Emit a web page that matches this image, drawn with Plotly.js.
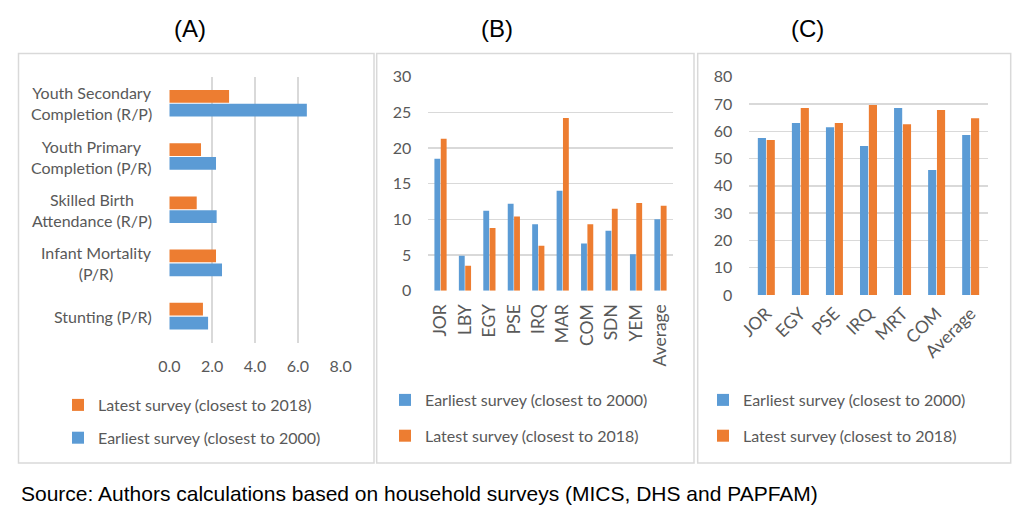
<!DOCTYPE html>
<html>
<head>
<meta charset="utf-8">
<script src="https://cdn.plot.ly/plotly-3.0.1.min.js"></script>
<style>html,body{margin:0;padding:0;background:#fff;}#chart{width:1029px;height:522px;}</style>
</head>
<body>
<div id="chart"></div>
<script>
// ---------- Data ----------
// Panel A (top to bottom as read)
const indicatorsA = ["Youth Secondary<br>Completion (R/P)", "Youth Primary<br>Completion (P/R)", "Skilled Birth<br>Attendance (R/P)", "Infant Mortality<br>(P/R)", "Stunting (P/R)"];
const earliestA = [6.42, 2.18, 2.21, 2.46, 1.81];
const latestA   = [2.79, 1.48, 1.28, 2.18, 1.57];
const ticksA = [0, 2, 4, 6, 8];

// Panel B
const countriesB = ["JOR", "LBY", "EGY", "PSE", "IRQ", "MAR", "COM", "SDN", "YEM", "Average"];
const earliestB = [18.5, 4.9, 11.2, 12.2, 9.3, 14.0, 6.6, 8.4, 5.1, 10.0];
const latestB   = [21.3, 3.5, 8.8, 10.4, 6.3, 24.2, 9.3, 11.5, 12.3, 11.9];

// Panel C
const countriesC = ["JOR", "EGY", "PSE", "IRQ", "MRT", "COM", "Average"];
const earliestC = [57.5, 63.0, 61.5, 54.6, 68.5, 45.8, 58.6];
const latestC   = [56.8, 68.5, 63.0, 69.6, 62.6, 67.8, 64.8];

const nameEarliest = "Earliest survey (closest to 2000)";
const nameLatest = "Latest survey (closest to 2018)";
const panelTitles = ["(A)", "(B)", "(C)"];
const sourceText = "Source: Authors calculations based on household surveys (MICS, DHS and PAPFAM)";

// ---------- Style ----------
const W = 1029, H = 522;
const BLUE = "#5b9bd5", ORANGE = "#ed7d31", GRID = "#d9d9d9", TXT = "#595959";
const FONT = "Lato, 'Open Sans', sans-serif";
const px = v => v / W;
const py = v => 1 - v / H;

const orderA = indicatorsA.slice().reverse(); // bottom to top

const traces = [
  {type: "bar", orientation: "h", name: nameEarliest, y: indicatorsA, x: earliestA,
   marker: {color: BLUE}, xaxis: "x", yaxis: "y", legend: "legend", legendgroup: "a1", legendrank: 2},
  {type: "bar", orientation: "h", name: nameLatest, y: indicatorsA, x: latestA,
   marker: {color: ORANGE}, xaxis: "x", yaxis: "y", legend: "legend", legendgroup: "a2", legendrank: 1},
  {type: "bar", name: nameEarliest, x: countriesB, y: earliestB,
   marker: {color: BLUE}, xaxis: "x2", yaxis: "y2", legend: "legend2", legendgroup: "b1", legendrank: 1},
  {type: "bar", name: nameLatest, x: countriesB, y: latestB,
   marker: {color: ORANGE}, xaxis: "x2", yaxis: "y2", legend: "legend2", legendgroup: "b2", legendrank: 2},
  {type: "bar", name: nameEarliest, x: countriesC, y: earliestC,
   marker: {color: BLUE}, xaxis: "x3", yaxis: "y3", legend: "legend3", legendgroup: "c1", legendrank: 1},
  {type: "bar", name: nameLatest, x: countriesC, y: latestC,
   marker: {color: ORANGE}, xaxis: "x3", yaxis: "y3", legend: "legend3", legendgroup: "c2", legendrank: 2}
];

const tickFont = {family: FONT, size: 16, color: TXT};
const catFont = {family: FONT, size: 17.5, color: TXT};
const legFont = {family: FONT, size: 16, color: TXT};

const annotations = [];
// panel titles
[[190, 28], [497, 28], [807, 28]].forEach((p, i) => {
  annotations.push({xref: "paper", yref: "paper", x: px(p[0]), y: py(p[1]), text: panelTitles[i],
    showarrow: false, xanchor: "center", yanchor: "middle",
    font: {family: "'Liberation Sans', Arial, sans-serif", size: 24, color: "#000"}});
});
// source
annotations.push({xref: "paper", yref: "paper", x: px(19), y: py(493), text: sourceText,
  showarrow: false, xanchor: "left", yanchor: "middle",
  font: {family: "'Liberation Sans', Arial, sans-serif", size: 21, color: "#000"}});
// Panel A category labels (centered multi-line)
orderA.forEach((c, i) => {
  annotations.push({xref: "paper", yref: "y", x: px(154), y: i, text: c, showarrow: false,
    xanchor: "right", yanchor: "middle", align: "center", font: tickFont});
});

const border = (x0, x1) => ({type: "rect", xref: "paper", yref: "paper",
  x0: px(x0), x1: px(x1), y0: py(463), y1: py(53.5), line: {color: GRID, width: 1.5}, fillcolor: "rgba(0,0,0,0)", layer: "below"});

const layout = {
  width: W, height: H,
  margin: {l: 0, r: 0, t: 0, b: 0},
  paper_bgcolor: "#fff", plot_bgcolor: "rgba(0,0,0,0)",
  barmode: "group", bargap: 0.48, bargroupgap: 0.08,
  showlegend: true,
  font: {family: FONT, color: TXT},
  xaxis: {domain: [px(169.3), px(340.7)], anchor: "y", range: [0, 8], tickvals: ticksA, tickformat: ".1f",
    showgrid: true, gridcolor: GRID, gridwidth: 1.5, zeroline: false, showline: false, ticks: "",
    tickfont: tickFont, ticklabelstandoff: 12, fixedrange: true},
  yaxis: {domain: [py(342.7), py(76.7)], anchor: "x", type: "category", categoryorder: "array", categoryarray: orderA,
    showticklabels: false, showgrid: false, zeroline: false, showline: false, ticks: "", fixedrange: true},
  xaxis2: {domain: [px(428.3), px(672.7)], anchor: "y2", type: "category", tickangle: -90,
    showgrid: false, zeroline: false, showline: false, ticks: "", tickfont: catFont, ticklabelstandoff: 9, fixedrange: true},
  yaxis2: {domain: [py(290.7), py(76.7)], anchor: "x2", range: [0, 30], dtick: 5,
    showgrid: true, gridcolor: GRID, gridwidth: 1.5, zeroline: false, showline: false, ticks: "",
    tickfont: tickFont, ticklabelstandoff: 16, fixedrange: true},
  xaxis3: {domain: [px(749.3), px(987.7)], anchor: "y3", type: "category", tickangle: -45,
    showgrid: false, zeroline: false, showline: false, ticks: "", tickfont: catFont, ticklabelstandoff: 4, fixedrange: true},
  yaxis3: {domain: [py(295), py(76.7)], anchor: "x3", range: [0, 80], dtick: 10,
    showgrid: true, gridcolor: GRID, gridwidth: 1.5, zeroline: false, showline: false, ticks: "",
    tickfont: tickFont, ticklabelstandoff: 16, fixedrange: true},
  legend: {x: px(58), y: py(388), xanchor: "left", yanchor: "top", traceorder: "grouped",
    tracegroupgap: 9, bgcolor: "rgba(0,0,0,0)", font: legFont},
  legend2: {x: px(385), y: py(383), xanchor: "left", yanchor: "top", traceorder: "grouped",
    tracegroupgap: 12, bgcolor: "rgba(0,0,0,0)", font: legFont},
  legend3: {x: px(703), y: py(383), xanchor: "left", yanchor: "top", traceorder: "grouped",
    tracegroupgap: 12, bgcolor: "rgba(0,0,0,0)", font: legFont},
  shapes: [border(18.5, 374), border(376.7, 694), border(697.7, 1010.7)],
  annotations: annotations
};

Plotly.newPlot("chart", traces, layout, {staticPlot: true, displayModeBar: false});
</script>
</body>
</html>
